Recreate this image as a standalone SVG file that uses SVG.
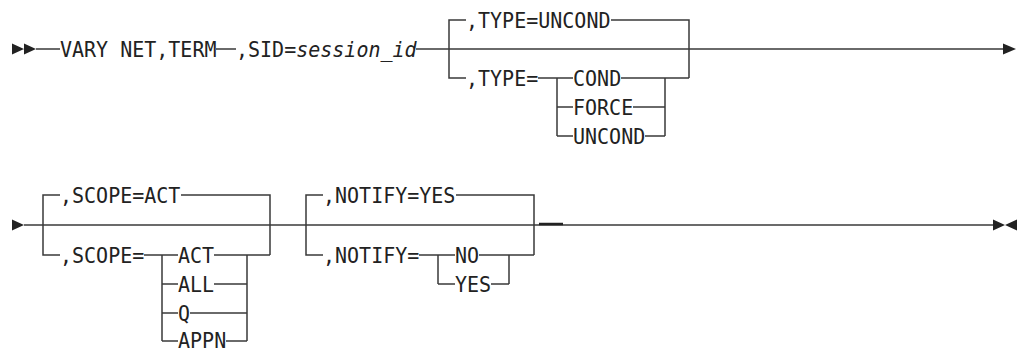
<svg xmlns="http://www.w3.org/2000/svg" width="1019" height="349" viewBox="0 0 1019 349">
<style>
.t{font-family:"DejaVu Sans Mono","Liberation Mono",monospace;font-size:21px;fill:#222}
.i{font-style:italic}
.c path{fill:none;stroke:#3a3a3a;stroke-width:1.5}
.c path.bold{stroke:#222;stroke-width:2.5}
.m{fill:#222}
</style>
<rect width="1019" height="349" fill="#fff"/>
<g id="connectors" class="c">
<path d="M36,49H60M216,49H236M416,49H1003"/>
<path d="M466,20H449V78H466M611,20H689V78M538,78H573M621,78H689M557,78V136M557,107H573M557,136H573M633,107H665M645,136H665M665,78V136"/>
<path d="M24,225H993"/>
<path d="M60,195H43V255H60M181,195H270V255M144,255H178M214,255H270M162,255V341M162,284H178M162,313H178M162,341H178M214,284H247M190,313H247M226,341H247M247,255V341"/>
<path d="M323,195H306V255H323M456,195H534V255M419,255H455M479,255H534M438,255V284M438,284H455M491,284H509M509,255V284"/>
<path class="bold" d="M539,224H563"/>
</g>
<g id="markers">
<path class="m" d="M12,43.5L24,49L12,54.5ZM24,43.5L36,49L24,54.5Z"/>
<path class="m" d="M1003,43.5L1016,49L1003,54.5Z"/>
<path class="m" d="M12,219.5L24,225L12,230.5Z"/>
<path class="m" d="M993,219.5L1005,225L993,230.5ZM1017,219.5L1005,225L1017,230.5Z"/>
</g>
<g id="n-vary"><text class="t" x="60" y="56.6" textLength="156.5" lengthAdjust="spacingAndGlyphs">VARY NET,TERM</text></g>
<g id="n-sid"><text class="t" x="236" y="56.6" textLength="60.2" lengthAdjust="spacingAndGlyphs">,SID=</text><text class="t i" x="296.2" y="56.6" textLength="120.4" lengthAdjust="spacingAndGlyphs">session_id</text></g>
<g id="n-type-default"><text class="t" x="466" y="27.6" textLength="144.5" lengthAdjust="spacingAndGlyphs">,TYPE=UNCOND</text></g>
<g id="n-type"><text class="t" x="466" y="85.6" textLength="72.2" lengthAdjust="spacingAndGlyphs">,TYPE=</text></g>
<g id="n-cond"><text class="t" x="573" y="85.6" textLength="48.2" lengthAdjust="spacingAndGlyphs">COND</text></g>
<g id="n-force"><text class="t" x="573" y="114.6" textLength="60.2" lengthAdjust="spacingAndGlyphs">FORCE</text></g>
<g id="n-uncond"><text class="t" x="573" y="143.6" textLength="72.2" lengthAdjust="spacingAndGlyphs">UNCOND</text></g>
<g id="n-scope-default"><text class="t" x="60" y="202.6" textLength="120.4" lengthAdjust="spacingAndGlyphs">,SCOPE=ACT</text></g>
<g id="n-scope"><text class="t" x="60" y="262.6" textLength="84.3" lengthAdjust="spacingAndGlyphs">,SCOPE=</text></g>
<g id="n-act"><text class="t" x="178" y="262.6" textLength="36.1" lengthAdjust="spacingAndGlyphs">ACT</text></g>
<g id="n-all"><text class="t" x="178" y="291.6" textLength="36.1" lengthAdjust="spacingAndGlyphs">ALL</text></g>
<g id="n-q"><text class="t" x="178" y="320.6" textLength="12" lengthAdjust="spacingAndGlyphs">Q</text></g>
<g id="n-appn"><text class="t" x="178" y="348" textLength="48.2" lengthAdjust="spacingAndGlyphs">APPN</text></g>
<g id="n-notify-default"><text class="t" x="323" y="202.6" textLength="132.4" lengthAdjust="spacingAndGlyphs">,NOTIFY=YES</text></g>
<g id="n-notify"><text class="t" x="323" y="262.6" textLength="96.3" lengthAdjust="spacingAndGlyphs">,NOTIFY=</text></g>
<g id="n-no"><text class="t" x="455" y="262.6" textLength="24.1" lengthAdjust="spacingAndGlyphs">NO</text></g>
<g id="n-yes"><text class="t" x="455" y="291.6" textLength="36.1" lengthAdjust="spacingAndGlyphs">YES</text></g>
</svg>
